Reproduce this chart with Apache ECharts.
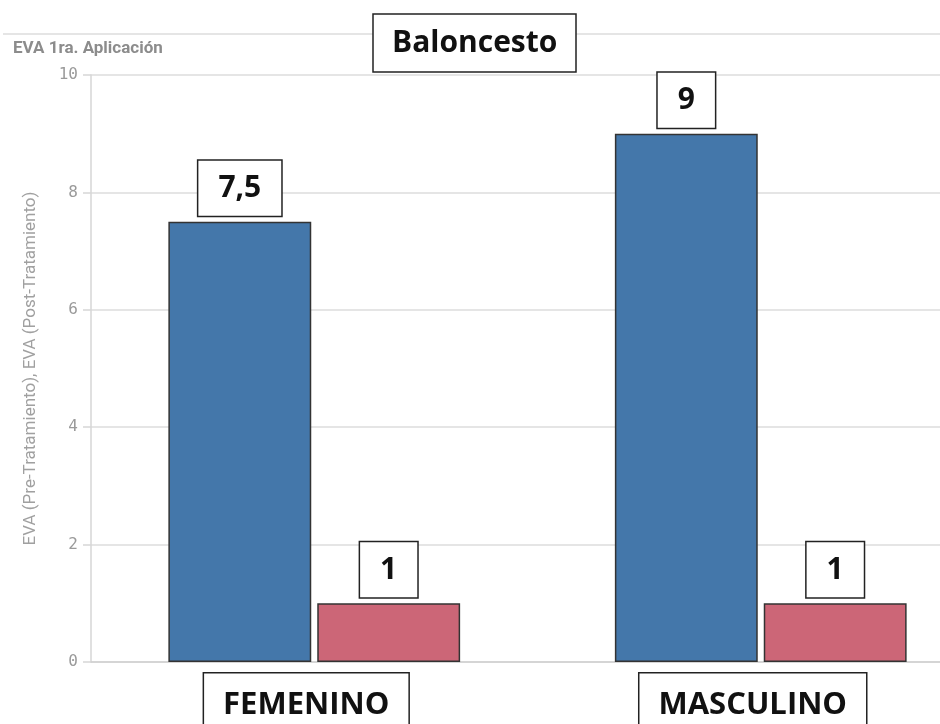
<!DOCTYPE html>
<html>
<head>
<meta charset="utf-8">
<style>
  html, body { margin: 0; padding: 0; background: #ffffff; }
  #chart { width: 940px; height: 724px; }
</style>
<script src="https://cdn.jsdelivr.net/npm/echarts@6/dist/echarts.min.js"></script>
</head>
<body>
<div id="chart"></div>
<script>
// EVA pain scores, basketball players, first application
const categories = ['FEMENINO', 'MASCULINO'];
const preTreatment = [7.5, 9];
const postTreatment = [1, 1];
const yMin = 0, yMax = 10, yStep = 2;

const chart = echarts.init(document.getElementById('chart'));

const valueLabel = {
  show: true,
  position: 'top',
  distance: 6,
  formatter: p => String(p.value).replace('.', ','),
  color: '#111',
  fontFamily: 'Open Sans',
  fontWeight: 'bold',
  fontSize: 30,
  lineHeight: 30,
  backgroundColor: '#ffffff',
  borderColor: '#222',
  borderWidth: 1.5,
  padding: [13, 20, 12, 20]
};

const barStyle = color => ({
  color: color,
  borderColor: '#333',
  borderWidth: 1.5
});

chart.setOption({
  animation: false,
  backgroundColor: '#ffffff',
  title: {
    text: 'Baloncesto',
    left: 373,
    top: 14,
    padding: [14, 19, 14, 19],
    backgroundColor: '#ffffff',
    borderColor: '#222',
    borderWidth: 1.5,
    textStyle: {
      color: '#111',
      fontFamily: 'Open Sans',
      fontWeight: 'bold',
      fontSize: 30,
      lineHeight: 30
    }
  },
  graphic: [
    {
      type: 'line',
      z: 0,
      shape: { x1: 3, y1: 34, x2: 940, y2: 34 },
      style: { stroke: '#dcdcdc', lineWidth: 1.5 }
    },
    {
      type: 'text',
      left: 13,
      top: 40,
      style: {
        text: 'EVA 1ra. Aplicación',
        fill: '#8c8c8c',
        font: 'bold 17px "Roboto", sans-serif'
      }
    }
  ],
  grid: { left: 91, top: 75, width: 893, height: 587, outerBoundsMode: 'none', containLabel: false },
  xAxis: {
    type: 'category',
    data: categories,
    axisLine: { lineStyle: { color: '#d0d0d0', width: 1.5 } },
    axisTick: { show: false },
    axisLabel: {
      margin: 25,
      // boxed category name, set a little left of the tick
      padding: [0, 16, 0, 0],
      formatter: v => '{box|' + v + '}',
      rich: {
        box: {
          color: '#111',
          fontFamily: 'Open Sans',
          fontWeight: 'bold',
          fontSize: 31,
          lineHeight: 32,
          backgroundColor: '#ffffff',
          borderColor: '#222',
          borderWidth: 1.5,
          padding: [16, 19, 12, 19]
        }
      }
    }
  },
  yAxis: {
    type: 'value',
    min: yMin,
    max: yMax,
    interval: yStep,
    name: 'EVA (Pre-Tratamiento), EVA (Post-Tratamiento)',
    nameLocation: 'middle',
    nameGap: 52,
    nameTextStyle: { color: '#a0a0a0', fontSize: 17, fontFamily: 'Roboto' },
    axisLine: { show: true, lineStyle: { color: '#d6d6d6', width: 1.5 } },
    axisTick: { show: true, inside: false, length: 8, lineStyle: { color: '#d6d6d6', width: 1.5 } },
    axisLabel: {
      margin: 13,
      color: '#9a9a9a',
      fontSize: 16,
      fontFamily: 'DejaVu Sans Mono'
    },
    splitLine: { lineStyle: { color: '#dcdcdc', width: 1.5 } }
  },
  series: [
    {
      name: 'EVA (Pre-Tratamiento)',
      type: 'bar',
      data: preTreatment,
      barWidth: '32%',
      barGap: '4.2%',
      itemStyle: barStyle('#4477aa'),
      label: valueLabel
    },
    {
      name: 'EVA (Post-Tratamiento)',
      type: 'bar',
      data: postTreatment,
      barWidth: '32%',
      itemStyle: barStyle('#cc6677'),
      label: valueLabel
    }
  ]
});
</script>
</body>
</html>
